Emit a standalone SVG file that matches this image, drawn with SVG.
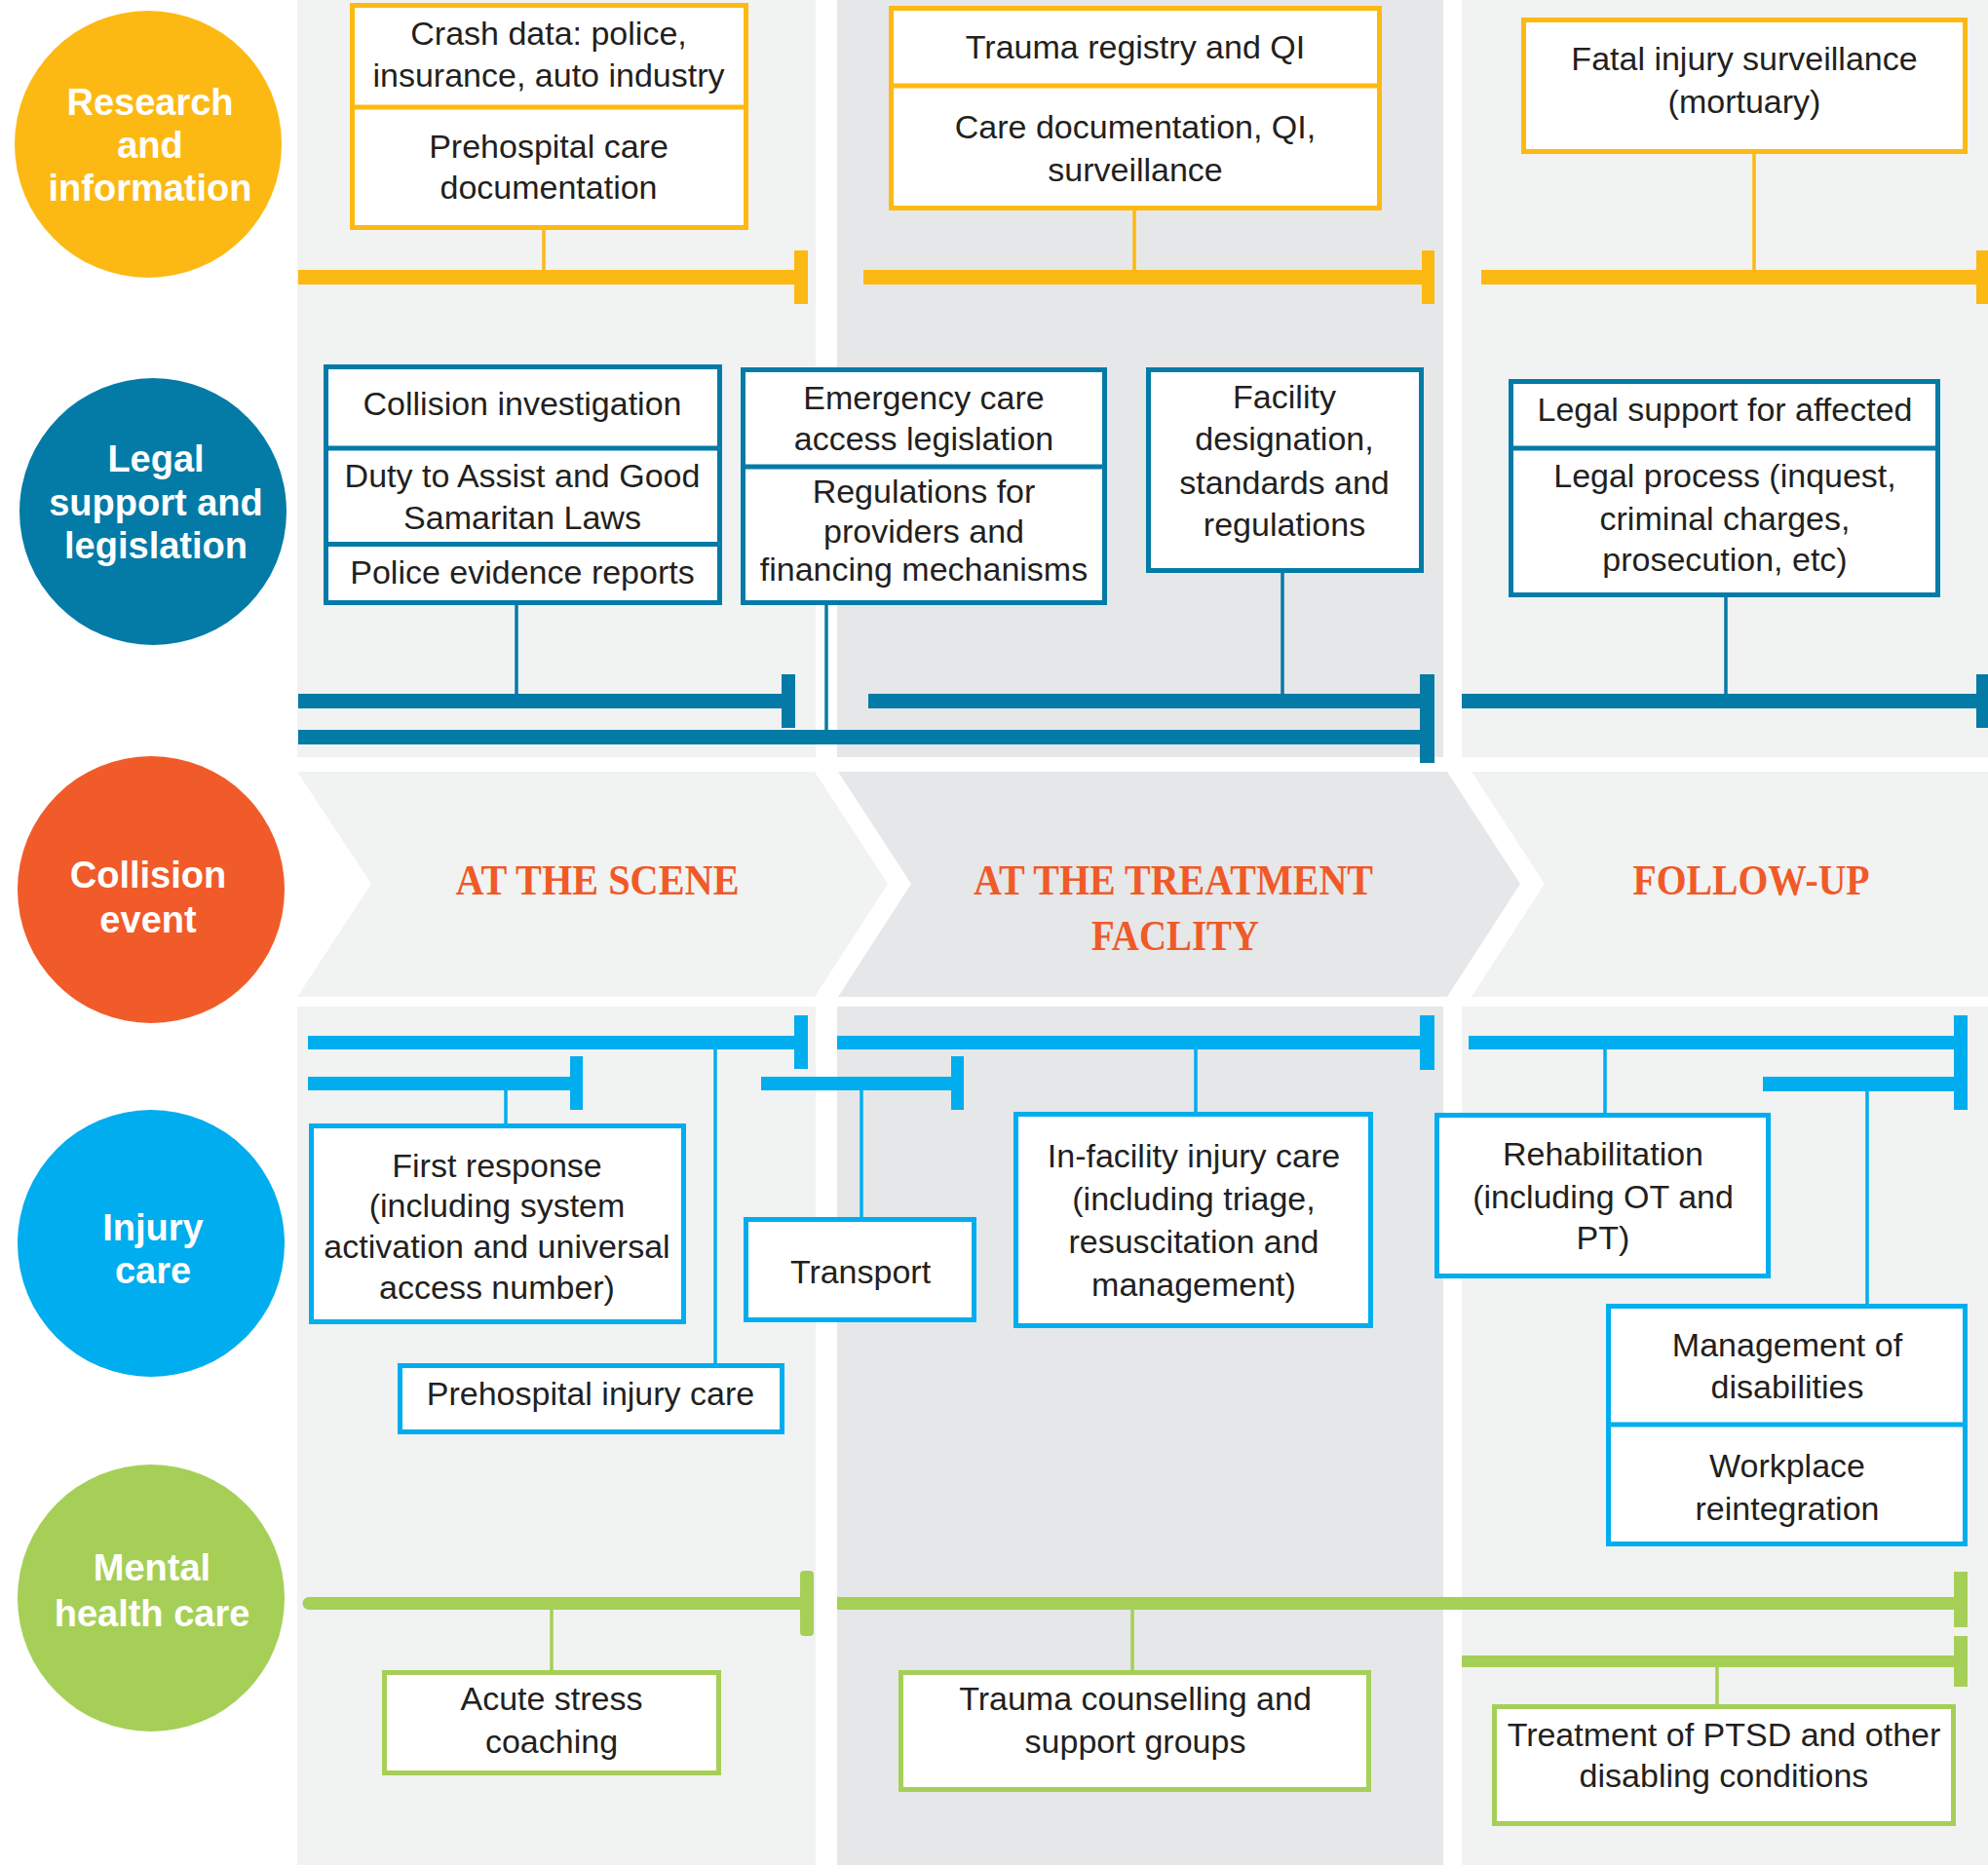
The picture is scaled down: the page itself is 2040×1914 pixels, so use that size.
<svg xmlns="http://www.w3.org/2000/svg" width="2040" height="1914" viewBox="0 0 2040 1914">
<style>
.t{font-family:"Liberation Sans",Arial,sans-serif;font-size:34px;fill:#231f20;text-anchor:middle}
.c{font-family:"Liberation Sans",Arial,sans-serif;font-weight:bold;font-size:38px;fill:#fff;text-anchor:middle}
.ph{font-family:"Liberation Serif","Times New Roman",serif;font-weight:bold;font-size:44px;fill:#f05a28;text-anchor:middle}
.l1{fill:#f1f2f2}.l2{fill:#e6e7e8}
.by{fill:#fff;stroke:#fdb913;stroke-width:5}.bb{fill:#fff;stroke:#037ba6;stroke-width:5}
.bl{fill:#fff;stroke:#00adee;stroke-width:5}.bg{fill:#fff;stroke:#a6cf58;stroke-width:5}
.sy{stroke:#fdb913;stroke-width:5;fill:none}.sb{stroke:#037ba6;stroke-width:5;fill:none}
.sl{stroke:#00adee;stroke-width:5;fill:none}.sg{stroke:#a6cf58;stroke-width:5;fill:none}
.cy{stroke:#fdb913;stroke-width:3.5}.cb{stroke:#037ba6;stroke-width:3.5}
.cl{stroke:#00adee;stroke-width:3.5}.cg{stroke:#a6cf58;stroke-width:3.5}
.fy{fill:#fdb913}.fb{fill:#037ba6}.fl{fill:#00adee}.fg{fill:#a6cf58}
</style>
<g id="background">
<rect class="l1" x="305" y="0" width="532" height="777"/>
<rect class="l2" x="859" y="0" width="622" height="777"/>
<rect class="l1" x="1500" y="0" width="540" height="777"/>
<rect class="l1" x="305" y="1033" width="532" height="881"/>
<rect class="l2" x="859" y="1033" width="622" height="881"/>
<rect class="l1" x="1500" y="1033" width="540" height="881"/>
</g>
<g id="phase-scene">
<polygon class="l1" points="305,792 836,792 911,907 836,1023 305,1023 381,907"/>
<text class="ph" x="613" y="918" textLength="291" lengthAdjust="spacingAndGlyphs">AT THE SCENE</text>
</g>
<g id="phase-facility">
<polygon class="l2" points="860,792 1485,792 1560,907 1485,1023 860,1023 935,907"/>
<text class="ph" x="1204" y="918" textLength="410" lengthAdjust="spacingAndGlyphs">AT THE TREATMENT</text>
<text class="ph" x="1206" y="975" textLength="172" lengthAdjust="spacingAndGlyphs">FACLITY</text>
</g>
<g id="phase-followup">
<polygon class="l1" points="1510,792 2040,792 2040,1023 1510,1023 1585,907"/>
<text class="ph" x="1797" y="918" textLength="243" lengthAdjust="spacingAndGlyphs">FOLLOW-UP</text>
</g>
<g id="circle-research">
<circle cx="152" cy="148" r="137" fill="#fdb913"/>
<text class="c" x="154" y="118">Research</text><text class="c" x="154" y="162">and</text><text class="c" x="154" y="206">information</text>
</g>
<g id="circle-legal">
<circle cx="157" cy="525" r="137" fill="#037ba6"/>
<text class="c" x="160" y="484">Legal</text><text class="c" x="160" y="529">support and</text><text class="c" x="160" y="573">legislation</text>
</g>
<g id="circle-collision">
<circle cx="155" cy="913" r="137" fill="#f15b2a"/>
<text class="c" x="152" y="911">Collision</text><text class="c" x="152" y="957">event</text>
</g>
<g id="circle-injury">
<circle cx="155" cy="1276" r="137" fill="#00adee"/>
<text class="c" x="157" y="1273">Injury</text><text class="c" x="157" y="1317">care</text>
</g>
<g id="circle-mental">
<circle cx="155" cy="1640" r="137" fill="#a6cf58"/>
<text class="c" x="156" y="1622">Mental</text><text class="c" x="156" y="1669">health care</text>
</g>
<g id="connectors">
<line class="cy" x1="558" y1="236" x2="558" y2="280"/>
<line class="cy" x1="1164" y1="216" x2="1164" y2="280"/>
<line class="cy" x1="1800" y1="158" x2="1800" y2="280"/>
<rect class="fy" x="306" y="277" width="512" height="15"/><rect class="fy" x="815" y="257" width="14" height="55"/>
<rect class="fy" x="886" y="277" width="575" height="15"/><rect class="fy" x="1459" y="257" width="13" height="55"/>
<rect class="fy" x="1520" y="277" width="510" height="15"/><rect class="fy" x="2028" y="257" width="13" height="55"/>
<line class="cb" x1="530" y1="621" x2="530" y2="714"/>
<line class="cb" x1="848" y1="621" x2="848" y2="751"/>
<line class="cb" x1="1316" y1="588" x2="1316" y2="714"/>
<line class="cb" x1="1771" y1="613" x2="1771" y2="714"/>
<rect class="fb" x="306" y="712" width="498" height="15"/><rect class="fb" x="802" y="692" width="14" height="55"/>
<rect class="fb" x="306" y="749" width="1153" height="15"/>
<rect class="fb" x="891" y="712" width="568" height="15"/><rect class="fb" x="1457" y="692" width="15" height="91"/>
<rect class="fb" x="1500" y="712" width="530" height="15"/><rect class="fb" x="2028" y="692" width="13" height="55"/>
<line class="cl" x1="519" y1="1117" x2="519" y2="1154"/>
<line class="cl" x1="734" y1="1075" x2="734" y2="1400"/>
<line class="cl" x1="884" y1="1117" x2="884" y2="1250"/>
<line class="cl" x1="1227" y1="1075" x2="1227" y2="1142"/>
<line class="cl" x1="1647" y1="1075" x2="1647" y2="1143"/>
<line class="cl" x1="1916" y1="1118" x2="1916" y2="1339"/>
<rect class="fl" x="316" y="1063" width="501" height="14"/><rect class="fl" x="815" y="1042" width="14" height="55"/>
<rect class="fl" x="316" y="1105" width="271" height="14"/><rect class="fl" x="585" y="1084" width="13" height="55"/>
<rect class="fl" x="781" y="1105" width="197" height="14"/><rect class="fl" x="976" y="1084" width="13" height="55"/>
<rect class="fl" x="859" y="1063" width="600" height="14"/><rect class="fl" x="1457" y="1042" width="15" height="56"/>
<rect class="fl" x="1507" y="1063" width="500" height="14"/><rect class="fl" x="1809" y="1105" width="198" height="15"/>
<rect class="fl" x="2005" y="1042" width="14" height="97"/>
<line class="cg" x1="566" y1="1650" x2="566" y2="1715"/>
<line class="cg" x1="1162" y1="1650" x2="1162" y2="1715"/>
<line class="cg" x1="1762" y1="1709" x2="1762" y2="1750"/>
<line x1="317" y1="1645.5" x2="824" y2="1645.5" stroke="#a6cf58" stroke-width="13" stroke-linecap="round"/>
<rect class="fg" x="821" y="1612" width="14" height="67" rx="4"/>
<rect class="fg" x="859" y="1639" width="1148" height="13"/><rect class="fg" x="2005" y="1613" width="14" height="57"/>
<rect class="fg" x="1500" y="1699" width="507" height="12"/><rect class="fg" x="2005" y="1679" width="14" height="52"/>
</g>
<g id="node-crash-data">
<rect class="by" x="361.5" y="5.5" width="404" height="228"/><line class="sy" x1="361.5" y1="110" x2="765.5" y2="110"/>
<text class="t" x="563" y="46">Crash data: police,</text><text class="t" x="563" y="89">insurance, auto industry</text>
<text class="t" x="563" y="162">Prehospital care</text><text class="t" x="563" y="204">documentation</text>
</g>
<g id="node-trauma-registry">
<rect class="by" x="914.5" y="8.5" width="501" height="205"/><line class="sy" x1="914.5" y1="88" x2="1415.5" y2="88"/>
<text class="t" x="1165" y="60">Trauma registry and QI</text>
<text class="t" x="1165" y="142">Care documentation, QI,</text><text class="t" x="1165" y="186">surveillance</text>
</g>
<g id="node-fatal-injury">
<rect class="by" x="1563.5" y="20.5" width="453" height="135"/>
<text class="t" x="1790" y="72">Fatal injury surveillance</text><text class="t" x="1790" y="116">(mortuary)</text>
</g>
<g id="node-collision-investigation">
<rect class="bb" x="334.5" y="376.5" width="404" height="242"/>
<line class="sb" x1="334.5" y1="460" x2="738.5" y2="460"/><line class="sb" x1="334.5" y1="558.5" x2="738.5" y2="558.5"/>
<text class="t" x="536" y="426">Collision investigation</text>
<text class="t" x="536" y="500">Duty to Assist and Good</text><text class="t" x="536" y="543">Samaritan Laws</text>
<text class="t" x="536" y="599">Police evidence reports</text>
</g>
<g id="node-emergency-legislation">
<rect class="bb" x="762.5" y="379.5" width="371" height="239"/><line class="sb" x1="762.5" y1="479" x2="1133.5" y2="479"/>
<text class="t" x="948" y="420">Emergency care</text><text class="t" x="948" y="462">access legislation</text>
<text class="t" x="948" y="516">Regulations for</text><text class="t" x="948" y="557">providers and</text><text class="t" x="948" y="596">financing mechanisms</text>
</g>
<g id="node-facility-designation">
<rect class="bb" x="1178.5" y="379.5" width="280" height="206"/>
<text class="t" x="1318" y="419">Facility</text><text class="t" x="1318" y="462">designation,</text>
<text class="t" x="1318" y="507">standards and</text><text class="t" x="1318" y="550">regulations</text>
</g>
<g id="node-legal-support">
<rect class="bb" x="1550.5" y="391.5" width="438" height="219"/><line class="sb" x1="1550.5" y1="460" x2="1988.5" y2="460"/>
<text class="t" x="1770" y="432">Legal support for affected</text>
<text class="t" x="1770" y="500">Legal process (inquest,</text><text class="t" x="1770" y="544">criminal charges,</text><text class="t" x="1770" y="586">prosecution, etc)</text>
</g>
<g id="node-first-response">
<rect class="bl" x="319.5" y="1155.5" width="382" height="201"/>
<text class="t" x="510" y="1208">First response</text><text class="t" x="510" y="1249">(including system</text>
<text class="t" x="510" y="1291">activation and universal</text><text class="t" x="510" y="1333">access number)</text>
</g>
<g id="node-prehospital-injury-care">
<rect class="bl" x="410.5" y="1401.5" width="392" height="68"/>
<text class="t" x="606" y="1442">Prehospital injury care</text>
</g>
<g id="node-transport">
<rect class="bl" x="765.5" y="1251.5" width="234" height="103"/>
<text class="t" x="883" y="1317">Transport</text>
</g>
<g id="node-in-facility-care">
<rect class="bl" x="1042.5" y="1143.5" width="364" height="217"/>
<text class="t" x="1225" y="1198">In-facility injury care</text><text class="t" x="1225" y="1242">(including triage,</text>
<text class="t" x="1225" y="1286">resuscitation and</text><text class="t" x="1225" y="1330">management)</text>
</g>
<g id="node-rehabilitation">
<rect class="bl" x="1474.5" y="1144.5" width="340" height="165"/>
<text class="t" x="1645" y="1196">Rehabilitation</text><text class="t" x="1645" y="1240">(including OT and</text><text class="t" x="1645" y="1282">PT)</text>
</g>
<g id="node-disabilities">
<rect class="bl" x="1650.5" y="1340.5" width="366" height="244"/><line class="sl" x1="1650.5" y1="1462" x2="2016.5" y2="1462"/>
<text class="t" x="1834" y="1392">Management of</text><text class="t" x="1834" y="1435">disabilities</text>
<text class="t" x="1834" y="1516">Workplace</text><text class="t" x="1834" y="1560">reintegration</text>
</g>
<g id="node-acute-stress">
<rect class="bg" x="394.5" y="1716.5" width="343" height="103"/>
<text class="t" x="566" y="1755">Acute stress</text><text class="t" x="566" y="1799">coaching</text>
</g>
<g id="node-trauma-counselling">
<rect class="bg" x="924.5" y="1716.5" width="480" height="120"/>
<text class="t" x="1165" y="1755">Trauma counselling and</text><text class="t" x="1165" y="1799">support groups</text>
</g>
<g id="node-ptsd">
<rect class="bg" x="1533.5" y="1751.5" width="471" height="120"/>
<text class="t" x="1769" y="1792">Treatment of PTSD and other</text><text class="t" x="1769" y="1834">disabling conditions</text>
</g>
</svg>
